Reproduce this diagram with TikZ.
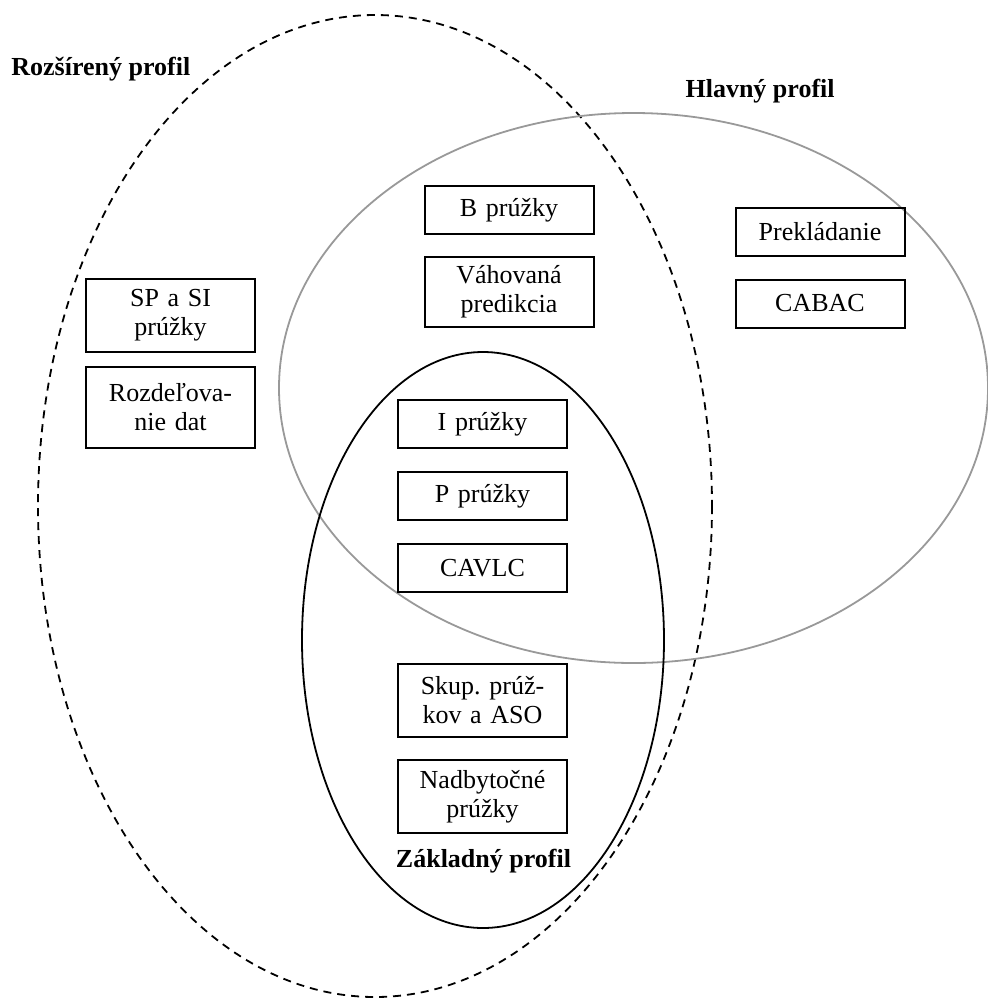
\documentclass[tikz,border=0pt]{standalone}
\usepackage{fontspec}
\setmainfont{Liberation Serif}
\usetikzlibrary{positioning}
\definecolor{ProfileGray}{HTML}{999999}
\tikzset{
  featbox/.style={draw, line width=1pt, text width=80pt, align=center,
                  minimum width=84.5pt, minimum height=24pt, inner sep=1pt,
                  font=\fontsize{13}{14.5}\selectfont\frenchspacing},
  twoline/.style={featbox, minimum height=#1},
  twoline/.default=36.5pt,
  profilelabel/.style={font=\fontsize{13}{15}\selectfont\bfseries, inner sep=0pt},
  extprofile/.style={line width=0.9pt, dash pattern=on 4pt off 3pt},
  mainprofile/.style={line width=0.9pt, draw=ProfileGray},
  baseprofile/.style={line width=0.9pt}
}

\begin{document}
\begin{tikzpicture}[x=0.5pt, y=-0.5pt]
  \useasboundingbox (0,0) rectangle (988,998);

  % profily
  \draw[extprofile] (375,506) ellipse [x radius=337, y radius=491];
  \draw[mainprofile] (633.5,388) ellipse [x radius=354.5, y radius=275];
  \draw[baseprofile] (483,640) ellipse [x radius=181, y radius=288];

  \node[profilelabel, anchor=base west] (extlabel) at (11,75) {Rozšírený profil};
  \node[profilelabel, anchor=base east] (mainlabel) at (835,97) {Hlavný profil};
  \node[profilelabel, anchor=base] (baselabel) at (483.5,867) {Základný profil};

  % rozšírený profil
  \node[twoline] (spsi) at (170.5,315.5) {SP a SI\\prúžky};
  \node[twoline=40.5pt] (partition) at (170.5,407.5) {Rozdeľova-\\nie dat};
  \node[featbox] (bslices) at (509,210) {B prúžky};
  \node[twoline=35pt] (weighted) at (509,292) {Váhovaná\\predikcia};

  % hlavný profil
  \node[featbox] (interlace) at (820,232) {Prekládanie};
  \node[featbox] (cabac) at (820,303.5) {CABAC};

  % základný profil
  \node[featbox] (islices) at (482.5,424) {I prúžky};
  \node[featbox] (pslices) at (482.5,496) {P prúžky};
  \node[featbox] (cavlc) at (482.5,568) {CAVLC};
  \node[twoline] (fmo) at (482.5,700.5) {Skup. prúž-\\kov a ASO};
  \node[twoline] (redundant) at (482.5,796.5) {Nadbytočné\\prúžky};
\end{tikzpicture}
\end{document}
